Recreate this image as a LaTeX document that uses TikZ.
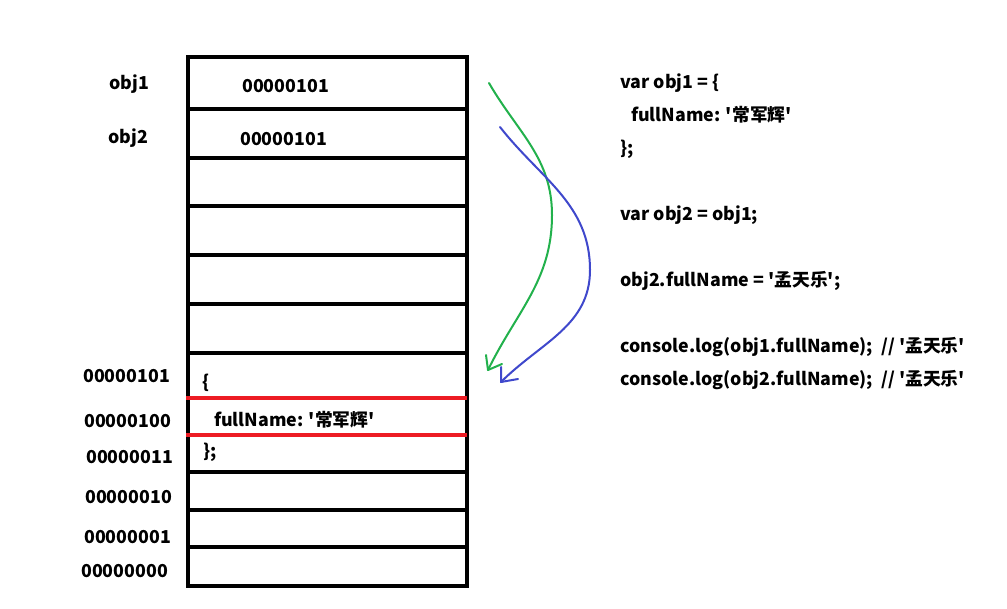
\documentclass[tikz,border=0pt]{standalone}
\usepackage{fontspec}
\newfontfamily\cjk{Noto Sans CJK SC}
\definecolor{pgreen}{RGB}{34,177,76}
\definecolor{pblue}{RGB}{63,72,204}
\definecolor{pred}{RGB}{237,28,36}
\tikzset{
  txt/.style={anchor=west,inner sep=0pt,font=\cjk\bfseries\fontsize{17.8}{20}\selectfont},
  grid/.style={line width=4pt,black},
  redline/.style={line width=3.5pt,pred},
  curve/.style={line width=2pt,line cap=round,line join=round},
}
\begin{document}
\begin{tikzpicture}[x=1pt,y=-1pt]
\useasboundingbox[fill=white] (0,0) rectangle (1007,608);
% memory column
\draw[grid] (188,57) rectangle (467,586);
\foreach \yy in {109,158,206,255,304,353,472,510,547}{
  \draw[grid] (188,\yy) -- (467,\yy);
}
\draw[redline] (186,398) -- (467,398);
\draw[redline] (186,435) -- (467,435);
% labels
\node[txt] (o1) at (109,84) {obj1};
\node[txt] (o2) at (108,138) {obj2};
\node[txt] (v1) at (242,86) {00000101};
\node[txt] (v2) at (240,139) {00000101};
\node[txt] (a5) at (83,376) {00000101};
\node[txt] (a4) at (84,421) {00000100};
\node[txt] (a3) at (86,457) {00000011};
\node[txt] (a2) at (85,497) {00000010};
\node[txt] (a1) at (84,537) {00000001};
\node[txt] (a0) at (81,571) {00000000};
\node[txt] (b1) at (202,383) {\{};
\node[txt] (b2) at (214,420) {fullName: \char39 常军辉\char39};
\node[txt] (b3) at (203,452) {\};};
% code
\node[txt] (c1) at (620,83) {var obj1 = \{};
\node[txt] (c2) at (631,115) {fullName: \char39 常军辉\char39};
\node[txt] (c3) at (620,149) {\};};
\node[txt] (c4) at (620,215) {var obj2 = obj1;};
\node[txt] (c5) at (620,281) {obj2.fullName = \char39 孟天乐\char39;};
\node[txt] (c6) at (620,347) {console.log(obj1.fullName);\ \ // \char39 孟天乐\char39};
\node[txt] (c7) at (620,380) {console.log(obj2.fullName);\ \ // \char39 孟天乐\char39};
% arrows
\coordinate (gs) at (489,83);
\coordinate (gm) at (552,215);
\coordinate (ge) at (488,370);
\coordinate (ga1) at (486,355);
\coordinate (ga2) at (502,364);
\coordinate (bs) at (500,127);
\coordinate (bm) at (590,270);
\coordinate (be) at (501,382);
\coordinate (ba1) at (501,367);
\coordinate (ba2) at (518,379);
\draw[curve,pgreen] (gs) to[out=-60,in=90] (gm) to[out=-90,in=64] (ge);
\draw[curve,pgreen] (ga1) -- (ge) -- (ga2);
\draw[curve,pblue] (bs) to[out=-52,in=90] (bm) to[out=-90,in=45] (be);
\draw[curve,pblue] (ba1) -- (be) -- (ba2);
\end{tikzpicture}
\end{document}
